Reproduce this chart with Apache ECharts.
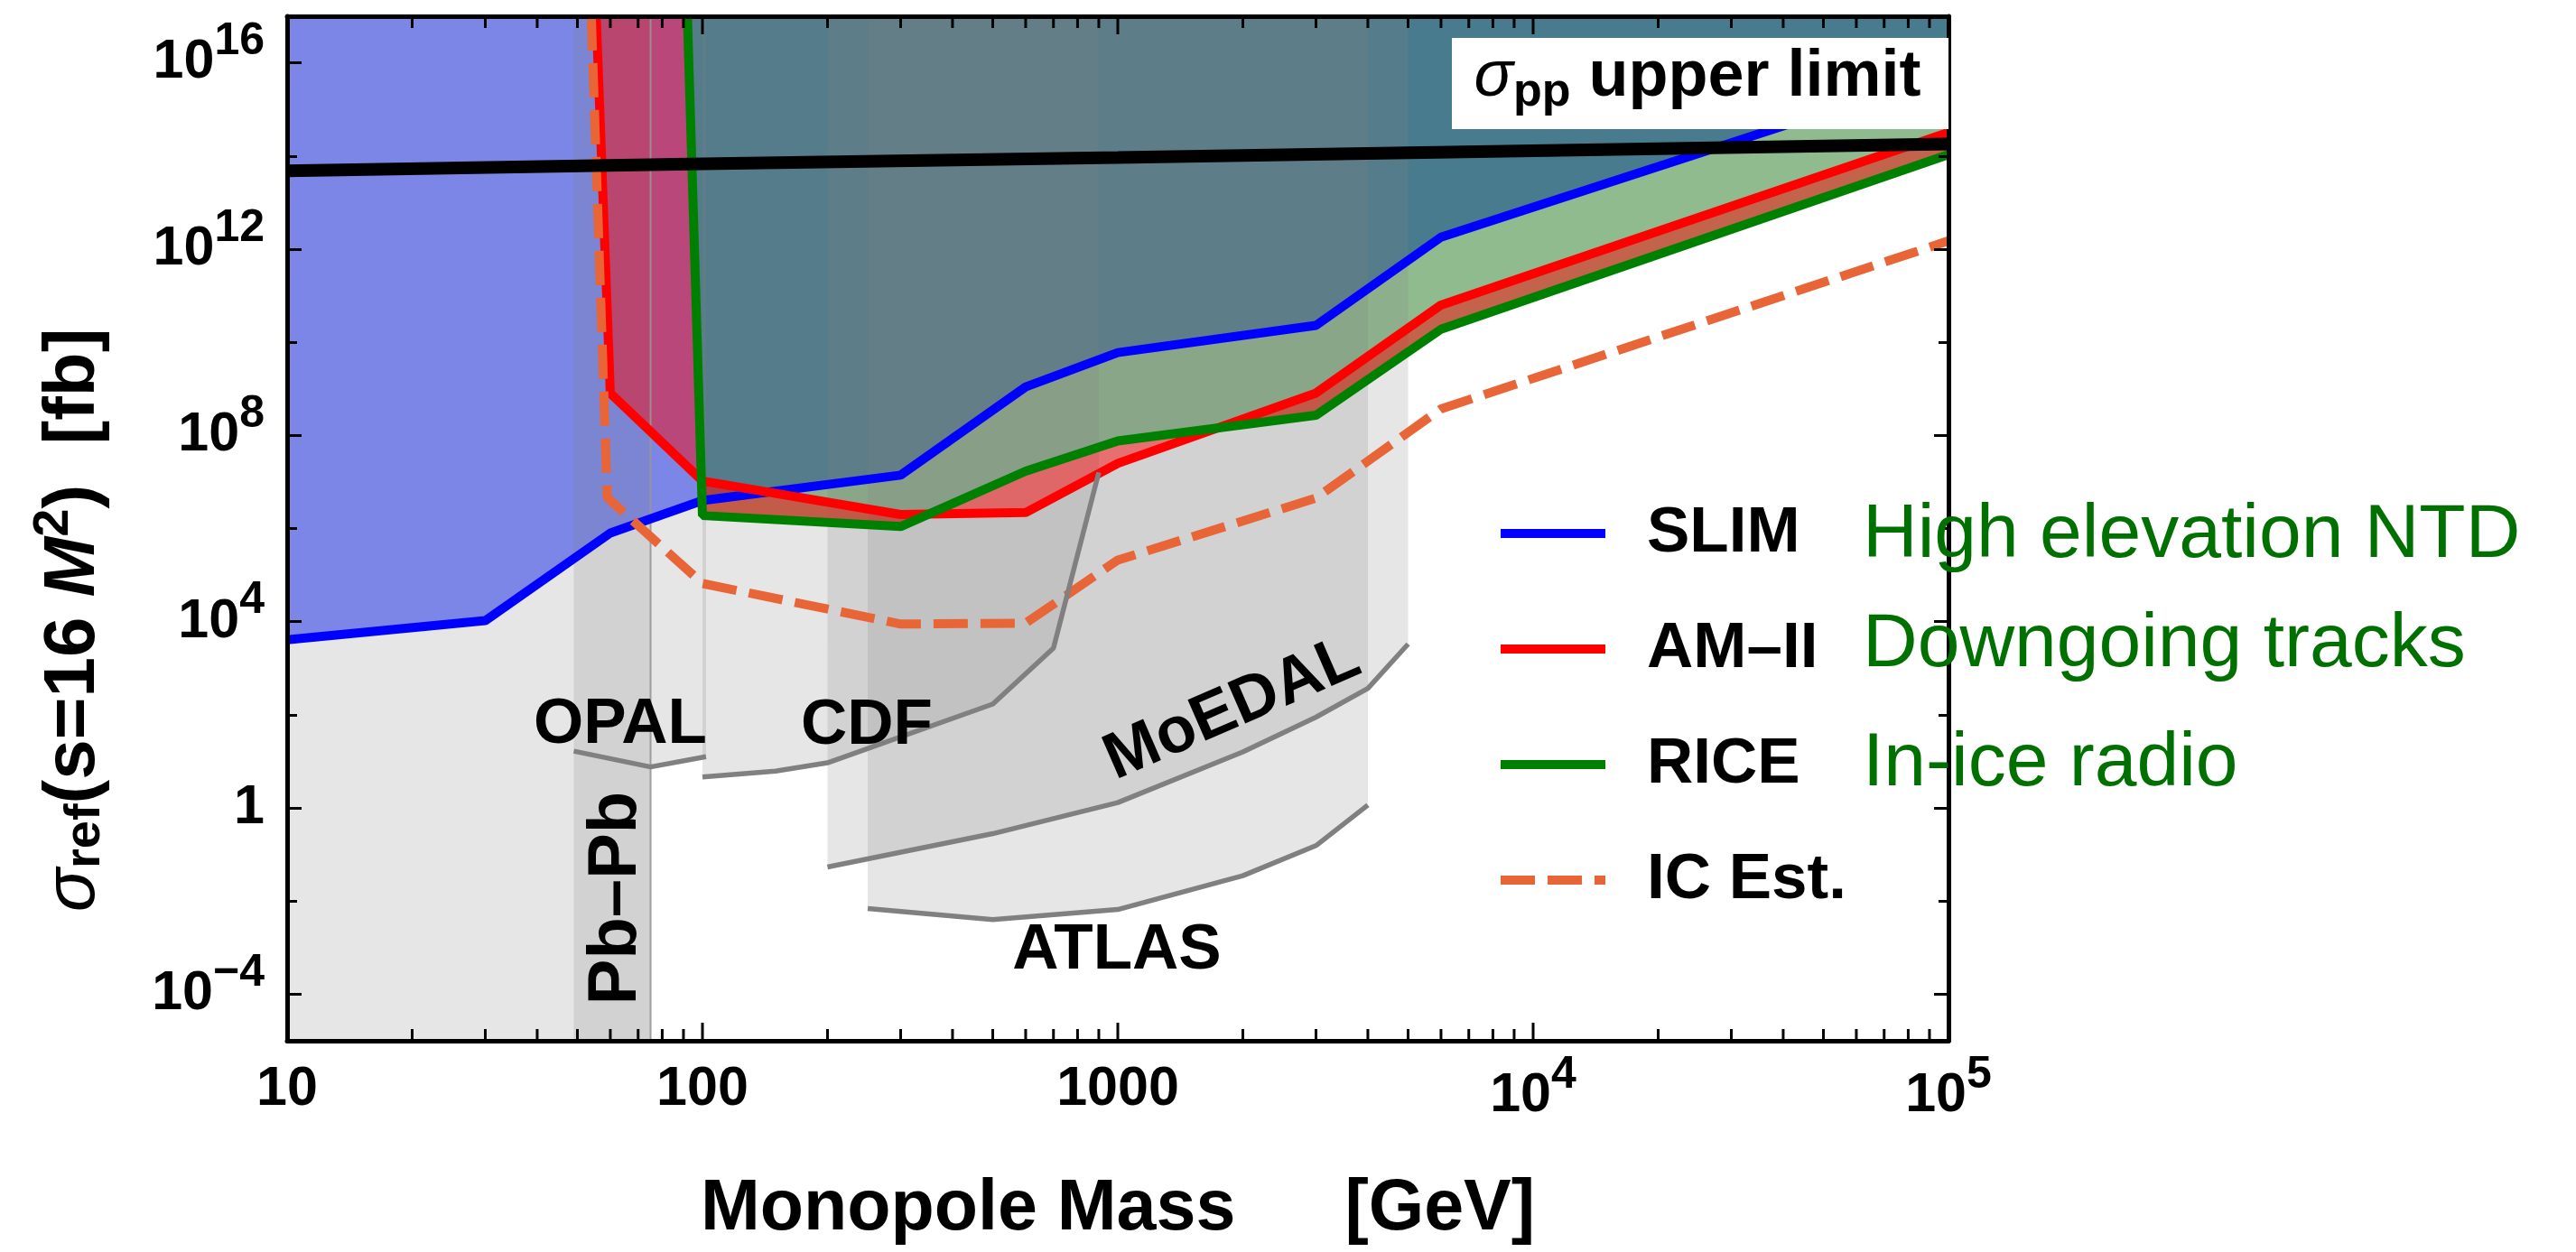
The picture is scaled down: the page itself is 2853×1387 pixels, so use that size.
<!DOCTYPE html>
<html><head><meta charset="utf-8">
<script src="https://cdn.jsdelivr.net/npm/echarts@6/dist/echarts.min.js"></script>
<style>html,body{margin:0;padding:0;background:#fff}#c{width:2853px;height:1387px}</style>
</head><body><div id="c"></div>
<script>
// ---------------- data (mass in GeV, cross section in fb) ----------------
const slimMass   = [10, 30, 60, 100, 300, 600, 1000, 3000, 6000, 100000];
const slimSigma  = [4.1e3, 1.05e4, 8.0e5, 4.0e6, 1.4e7, 1.1e9, 6.0e9, 2.3e10, 1.8e12, 6.3e15];
const amMass     = [55.5, 60, 100, 300, 600, 1000, 3000, 6000, 100000];
const amSigma    = [1e17, 8.0e8, 1.05e7, 2.0e6, 2.2e6, 2.5e7, 8.1e8, 6.3e10, 3.2e14];
const riceMass   = [92, 100, 300, 600, 1000, 3000, 6000, 100000];
const riceSigma  = [1e17, 1.9e6, 1.1e6, 1.7e7, 7.6e7, 2.7e8, 1.9e10, 1.07e14];
const icMass     = [54, 59, 100, 300, 600, 1000, 3000, 6000, 100000];
const icSigma    = [1e17, 4.6e6, 6.6e4, 8.9e3, 9.3e3, 2.1e5, 4.5e6, 3.7e8, 1.5e12];
const ppMass     = [10, 100, 1000, 10000, 100000];
const ppSigma    = [4.8e13, 6.8e13, 9.3e13, 1.3e14, 1.8e14];
const opalMass   = [49, 75, 102];
const opalSigma  = [16.6, 7.6, 12.6];
const cdfMass    = [100, 150, 200, 500, 700, 900];
const cdfSigma   = [4.6, 6.2, 9.3, 170, 2700, 1.6e7];
const moedalMass = [200, 500, 1000, 2000, 3000, 4000, 5000];
const moedalSigma= [0.054, 0.28, 1.3, 16, 89, 370, 3300];
const atlasMass  = [250, 500, 1000, 2000, 3000, 4000];
const atlasSigma = [6.9e-3, 4.0e-3, 6.6e-3, 0.035, 0.155, 1.15];
const pbpbMass   = [10, 75];
const xRange     = [10, 1e5];
const yRange     = [1e-5, 1e17];
const xMajorTicks = [10, 100, 1000, 1e4, 1e5];
const xMinorFactors = [2, 3, 4, 5, 6, 7, 8, 9];
const yLabelTicks = [1e-4, 1, 1e4, 1e8, 1e12, 1e16];
const yMinorTicks = [1e-2, 1e2, 1e6, 1e10, 1e14];
const legendNames = ['SLIM', 'AM–II', 'RICE', 'IC Est.'];
const noteTexts   = ['High elevation NTD', 'Downgoing tracks', 'In-ice radio'];

// ---------------- helpers ----------------
const L = Math.log10;
const pts = (ms, ss) => ms.map((m, i) => [L(m), L(ss[i])]);
const X0 = L(xRange[0]), X1 = L(xRange[1]), Y0 = L(yRange[0]), Y1 = L(yRange[1]);
const xMajor = xMajorTicks.map(L);
const xMinor = [];
xMajorTicks.slice(0, -1).forEach(d => xMinorFactors.forEach(k => xMinor.push(L(d * k))));
const yMajor = yLabelTicks.map(L);
const yMinor = yMinorTicks.map(L);

const FONT = '"Liberation Sans", Arial, Helvetica, sans-serif';
const GREY = 'rgba(128,128,128,0.2)';
const C_BLUE = '#0000ff', C_RED = '#ff0000', C_GREEN = '#008000', C_IC = '#e86538';

const slim = pts(slimMass, slimSigma);
const am = pts(amMass, amSigma);
const rice = pts(riceMass, riceSigma);
const ic = pts(icMass, icSigma);
const pp = pts(ppMass, ppSigma);
const opal = pts(opalMass, opalSigma);
const cdf = pts(cdfMass, cdfSigma);
const moedal = pts(moedalMass, moedalSigma);
const atlas = pts(atlasMass, atlasSigma);

function areaSeries(name, data, color, origin, z) {
  return { type: 'line', name, data, symbol: 'none', silent: true, z,
    lineStyle: { width: 0, opacity: 0 }, areaStyle: { color, opacity: 1, origin } };
}
function polySeries(name, poly, color, z) {
  return { type: 'custom', name, silent: true, clip: true, data: poly, z,
    renderItem: function (params, api) {
      if (params.dataIndex !== 0) return null;
      return { type: 'polygon', shape: { points: poly.map(p => api.coord(p)) }, style: { fill: color } };
    } };
}
function lineSeries(name, data, color, width, z, type) {
  return { type: 'line', name, data, symbol: 'none', silent: true, z,
    lineStyle: { color, width, type: type || 'solid', cap: 'butt' }, itemStyle: { color } };
}

// OPAL shaded region: full height below 75 GeV, above the OPAL curve beyond
const opalPoly = [[opal[0][0], Y0], [opal[0][0], Y1], [opal[2][0], Y1], opal[2], opal[1], [opal[1][0], Y0]];
// AM-II band: region between the AM-II and RICE curves
const redBand = am.concat(rice.slice().reverse());

// ---------------- axes ----------------
const B = { fontWeight: 'bold', fontFamily: FONT, color: '#000' };
const tickRich = {
  n: Object.assign({ fontSize: 61, lineHeight: 82 }, B),
  sup: Object.assign({ fontSize: 50, padding: [0, 0, 46, 0] }, B)
};
function xFmt(v) {
  const e = Math.round(v);
  return e <= 3 ? '{n|' + Math.pow(10, e) + '}' : '{n|10}{sup|' + e + '}';
}
function yFmt(v) {
  const e = Math.round(v);
  if (e === 0) return '{n|1}';
  return '{n|10}{sup|' + (e < 0 ? '−' + (-e) : e) + '}';
}
const lineBlack = { show: true, onZero: false, lineStyle: { color: '#000', width: 5 } };
const lineNone = { show: false, onZero: false };
const tickStyle = { color: '#000', width: 3 };
function xAx(grid, pos, withLine, labels) {
  return { type: 'value', gridIndex: grid, position: pos, min: X0, max: X1, z: 30,
    axisLine: withLine ? lineBlack : lineNone,
    splitLine: { show: false },
    axisTick: { show: false },
    axisLabel: labels ? { show: true, customValues: xMajor, formatter: xFmt, margin: 13, rich: tickRich } : { show: false } };
}
function yAx(grid, pos, ticks, len, withLine, labels) {
  return { type: 'value', gridIndex: grid, position: pos, min: Y0, max: Y1, z: 30,
    axisLine: withLine ? lineBlack : lineNone,
    splitLine: { show: false },
    axisTick: { show: true, inside: true, length: len, customValues: ticks, lineStyle: tickStyle },
    axisLabel: labels ? { show: true, customValues: yMajor, formatter: yFmt, margin: 25, rich: tickRich } : { show: false } };
}
const xAxes = [xAx(0, 'bottom', true, true), xAx(0, 'top', true, false),
               xAx(1, 'bottom', false, false), xAx(1, 'top', false, false)];
const yAxes = [yAx(0, 'left', yMajor, 16, true, true), yAx(0, 'right', yMajor, 16, true, false),
               yAx(1, 'left', yMinor, 11, false, false), yAx(1, 'right', yMinor, 11, false, false)];

xAxes[0].name = '{a|Monopole Mass}{g| }{a|[GeV]}';
xAxes[0].nameLocation = 'middle';
xAxes[0].nameGap = 148;
xAxes[0].nameTextStyle = { rich: { a: Object.assign({ fontSize: 79 }, B), g: Object.assign({ fontSize: 79, width: 121 }, B) } };

yAxes[0].name = '{s|σ}{sub|ref}{b|(s=16 }{i|M}{sup|2}{b|)  [fb]}';
yAxes[0].nameLocation = 'middle';
yAxes[0].nameRotate = 90;
yAxes[0].nameGap = 186;
yAxes[0].nameTextStyle = { padding: [0, 203, 0, 0], rich: {
  s: { fontSize: 80, fontStyle: 'italic', fontFamily: FONT, color: '#000' },
  sub: Object.assign({ fontSize: 56, padding: [26, 0, 0, 0] }, B),
  b: Object.assign({ fontSize: 80 }, B),
  i: Object.assign({ fontSize: 80, fontStyle: 'italic' }, B),
  sup: Object.assign({ fontSize: 56, padding: [0, 0, 44, 0] }, B)
} };

// log-spaced x ticks (major + minor) drawn at the bottom and top frame through the x scale
const xTickData = xMajor.map(v => [v, 1]).concat(xMinor.map(v => [v, 0]));
const xTickSeries = { type: 'custom', name: 'x ticks', silent: true, clip: false, z: 25, data: xTickData,
  renderItem: function (params, api) {
    const v = api.value(0), len = api.value(1) === 1 ? 20 : 13;
    const b = api.coord([v, Y0]), t = api.coord([v, Y1]);
    return { type: 'group', children: [
      { type: 'line', shape: { x1: b[0], y1: b[1], x2: b[0], y2: b[1] - len }, style: { stroke: '#000', lineWidth: 3 } },
      { type: 'line', shape: { x1: t[0], y1: t[1], x2: t[0], y2: t[1] + len }, style: { stroke: '#000', lineWidth: 3 } }
    ] };
  } };

// ---------------- series (z sets the drawing order) ----------------
const series = [
  areaSeries('SLIM fill', slim, 'rgba(0,25,255,0.52)', 'end', 1),
  areaSeries('RICE fill', rice, 'rgba(20,110,15,0.47)', 'end', 2),
  areaSeries('Pb–Pb region', pbpbMass.map(m => [L(m), Y1]), GREY, 'start', 3),
  polySeries('OPAL region', opalPoly, GREY, 3),
  areaSeries('CDF region', cdf, GREY, 'end', 3),
  areaSeries('MoEDAL region', moedal, GREY, 'end', 3),
  areaSeries('ATLAS region', atlas, GREY, 'end', 3),
  polySeries('AM–II band', redBand, 'rgba(255,0,0,0.47)', 4),
  lineSeries('Pb–Pb edge', [[L(pbpbMass[1]), Y0], [L(pbpbMass[1]), Y1]], 'rgba(150,150,150,0.9)', 2, 5),
  lineSeries('SLIM', slim, C_BLUE, 10, 6),
  lineSeries('AM–II', am, C_RED, 10, 6),
  lineSeries('RICE', rice, C_GREEN, 10, 6),
  lineSeries('IC Est.', ic, C_IC, 10, 7, [38, 14]),
  lineSeries('OPAL', opal, '#808080', 5.5, 8),
  lineSeries('CDF', cdf, '#808080', 5.5, 8),
  lineSeries('MoEDAL', moedal, '#808080', 5.5, 8),
  lineSeries('ATLAS', atlas, '#808080', 5.5, 8),
  lineSeries('σpp upper limit', pp, '#000', 14, 9),
  xTickSeries
];

// ---------------- annotations ----------------
function label(text, x, y, rot, size) {
  return { type: 'text', x, y, rotation: rot || 0, z: 60,
    style: { text, font: 'bold ' + (size || 71) + 'px ' + FONT, fill: '#000', align: 'center', verticalAlign: 'middle' } };
}
const graphic = [
  label('OPAL', 687, 803),
  label('CDF', 960, 804),
  label('ATLAS', 1237, 1053),
  label('MoEDAL', 1365, 786, 0.41, 72),
  label('Pb–Pb', 683, 995, Math.PI / 2, 76),
  { type: 'rect', z: 100, shape: { x: 1608, y: 42, width: 550, height: 101 }, style: { fill: '#fff' } },
  { type: 'text', z: 101, x: 1880, y: 86, style: {
      text: '{s|σ}{sub|pp}{b| upper limit}', align: 'center', verticalAlign: 'middle',
      rich: {
        s: { fontSize: 72, fontStyle: 'italic', fontFamily: FONT, fill: '#000' },
        sub: { fontSize: 52, fontWeight: 'bold', fontFamily: FONT, fill: '#000', padding: [34, 0, 0, 0] },
        b: { fontSize: 72, fontWeight: 'bold', fontFamily: FONT, fill: '#000' }
      } } }
];
[594, 715, 847].forEach((y, i) => graphic.push({ type: 'text', z: 100, x: 2063, y,
  style: { text: noteTexts[i], font: '84px ' + FONT, fill: 'rgb(0,112,0)', align: 'left', verticalAlign: 'middle' } }));

const chart = echarts.init(document.getElementById('c'), null, { width: 2853, height: 1387 });
chart.setOption({
  animation: false,
  backgroundColor: '#fff',
  grid: [
    { left: 318, top: 18, width: 1840, height: 1135, containLabel: false },
    { left: 318, top: 18, width: 1840, height: 1135, containLabel: false }
  ],
  xAxis: xAxes,
  yAxis: yAxes,
  legend: {
    orient: 'vertical', left: 1652, top: 546, itemWidth: 116, itemHeight: 12, itemGap: 48,
    selectedMode: false, data: legendNames,
    lineStyle: { width: 10 },
    textStyle: { fontSize: 71, fontWeight: 'bold', fontFamily: FONT, color: '#000', lineHeight: 80, padding: [0, 0, 0, 41] }
  },
  series: series.map(s => Object.assign(s, { xAxisIndex: 0, yAxisIndex: 0 })),
  graphic: graphic
});
</script></body></html>
